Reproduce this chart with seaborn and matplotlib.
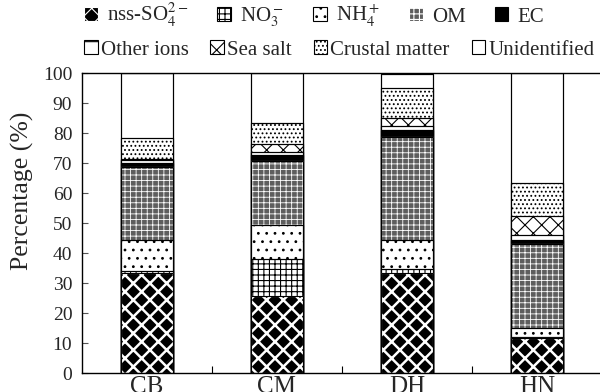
import numpy as np
import pandas as pd
import matplotlib
matplotlib.use("Agg")
import matplotlib.pyplot as plt
from matplotlib.patches import Patch
from matplotlib.ticker import FixedLocator
import seaborn as sns


# =========================================
# DATA (percent of PM mass)
# =========================================

sites = ["CB", "CM", "DH", "HN"]

so4 = [33.3, 25.8, 33.2, 11.6]
no3 = [0.8, 12.1, 1.4, 0.5]
nh4 = [10.1, 11.3, 9.7, 2.8]
om = [24.4, 21.6, 34.3, 28.0]
ec = [1.5, 1.9, 2.4, 1.4]
other_ions = [1.0, 1.1, 1.3, 1.7]
sea_salt = [0.4, 2.5, 2.6, 6.3]
crustal = [6.9, 7.0, 10.0, 11.1]
unidentified = [21.6, 16.7, 4.8, 36.6]

labels = ["nss-SO$_4^{2-}$", "NO$_3^-$", "NH$_4^+$", "OM", "EC",
          "Other ions", "Sea salt", "Crustal matter", "Unidentified"]

df = pd.DataFrame({
    "site": sites,
    labels[0]: so4, labels[1]: no3, labels[2]: nh4, labels[3]: om,
    labels[4]: ec, labels[5]: other_ions, labels[6]: sea_salt,
    labels[7]: crustal, labels[8]: unidentified,
})

# face, hatch colour, hatch pattern, hatch linewidth
styles = {
    labels[0]: ("black", "white", "xx", 1.8),
    labels[1]: ("white", "black", "+++", 0.8),
    labels[2]: ("white", "black", "..", 0.8),
    labels[3]: ("#5e5e5e", "white", "+++", 0.6),
    labels[4]: ("black", "black", "", 0.8),
    labels[5]: ("white", "black", "-", 0.8),
    labels[6]: ("white", "black", "xx", 0.8),
    labels[7]: ("white", "black", "....", 0.8),
    labels[8]: ("white", "black", "", 0.8),
}


def set_hatch_lw(patches, lw):
    for p in patches:
        if hasattr(p, "set_hatch_linewidth"):
            p.set_hatch_linewidth(lw)


# =========================================
# STYLE
# =========================================

sns.set_style("white")
plt.rcParams["font.family"] = ["Liberation Serif", "DejaVu Serif"]
plt.rcParams["mathtext.fontset"] = "stix"
plt.rcParams["hatch.linewidth"] = 0.8

fig = plt.figure(figsize=(6, 3.92), dpi=100)
ax = fig.add_axes([82 / 600, 19 / 392, 520 / 600, 300 / 392])


# =========================================
# STACKED BARS (cumulative, drawn top layer first)
# =========================================

cum = df[labels].cumsum(axis=1)

for lab in labels[::-1]:
    face, hcol, hatch, hlw = styles[lab]
    n0 = len(ax.patches)
    with plt.rc_context({"hatch.linewidth": hlw}):
        sns.barplot(x=df["site"], y=cum[lab], ax=ax, color=face, saturation=1,
                    width=0.4, edgecolor=hcol, hatch=hatch, linewidth=0.8,
                    errorbar=None)
    set_hatch_lw(ax.patches[n0:], hlw)
    # black outline on top
    sns.barplot(x=df["site"], y=cum[lab], ax=ax, fill=False, color="black",
                width=0.4, edgecolor="black", linewidth=0.8, errorbar=None)

ax.set_xlim(-0.5, 3.5)
ax.set_ylim(0, 100)
ax.set_yticks(np.arange(0, 101, 10))
ax.set_xlabel("")
ax.set_ylabel("Percentage (%)", fontsize=18.5)
ax.yaxis.set_label_coords(-0.092, 0.607)

ax.xaxis.set_minor_locator(FixedLocator([0.5, 1.5, 2.5]))
ax.tick_params(axis="x", which="major", length=0, labelsize=18, pad=2)
ax.tick_params(axis="x", which="minor", direction="in", length=5,
               width=0.8, bottom=True, color="black")
ax.tick_params(axis="y", direction="in", length=4, width=0.8, left=True,
               labelsize=14, pad=7, color="#555555")

for s in ax.spines.values():
    s.set_color("black")
    s.set_linewidth(1.0)


# =========================================
# LEGEND (two separate rows)
# =========================================

handles = []
for lab in labels:
    face, hcol, hatch, hlw = styles[lab]
    with plt.rc_context({"hatch.linewidth": hlw}):
        h = Patch(facecolor=face, edgecolor=hcol, hatch=hatch,
                  linewidth=0.8, label=lab)
    set_hatch_lw([h], hlw)
    handles.append(h)

leg_kw = dict(loc="upper left", frameon=False, fontsize=15,
              handlelength=0.65, handleheight=0.65,
              borderaxespad=0, borderpad=0)

fig.legend(handles[:5], labels[:5], ncol=5, bbox_to_anchor=(0.14, 0.995),
           columnspacing=1.4, handletextpad=0.45, **leg_kw)
fig.legend(handles[5:], labels[5:], ncol=4, bbox_to_anchor=(0.14, 0.897),
           columnspacing=1.05, handletextpad=0.15, **leg_kw)

fig.savefig("out.png", dpi=100)
